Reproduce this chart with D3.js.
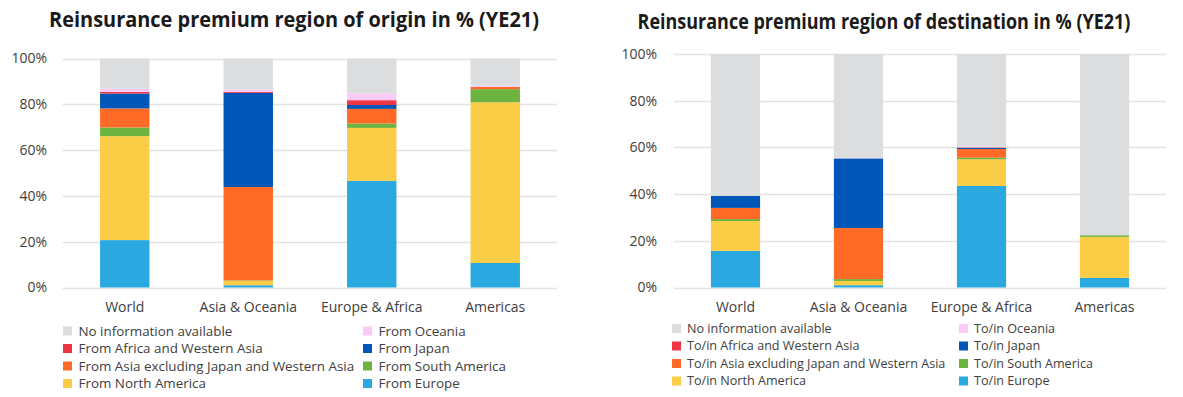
<!DOCTYPE html>
<html>
<head>
<meta charset="utf-8">
<script src="https://cdn.jsdelivr.net/npm/d3@7"></script>
<style>
  html, body { margin: 0; padding: 0; background: #fff; }
  svg { display: block; font-family: "Open Sans", "Noto Sans", sans-serif; }
</style>
</head>
<body>
<svg id="chart" width="1183" height="397"></svg>
<script>
// Regions of cedants / bar categories
const categories = ["World", "Asia & Oceania", "Europe & Africa", "Americas"];

// Stack order, bottom to top
const seriesKeys = ["europe", "northAmerica", "southAmerica", "asiaExJapan", "japan", "africaWAsia", "oceania", "noInfo"];

const seriesColors = {
  noInfo: "#dcdddf",
  oceania: "#fbcaf6",
  africaWAsia: "#ee3545",
  japan: "#0057b8",
  asiaExJapan: "#ff6b26",
  southAmerica: "#6db33f",
  northAmerica: "#fbcc45",
  europe: "#29a9e0"
};

// Legend layout: left column then right column
const legendLeftKeys = ["noInfo", "africaWAsia", "asiaExJapan", "northAmerica"];
const legendRightKeys = ["oceania", "japan", "southAmerica", "europe"];

const originLabels = {
  noInfo: "No information available",
  oceania: "From Oceania",
  africaWAsia: "From Africa and Western Asia",
  japan: "From Japan",
  asiaExJapan: "From Asia excluding Japan and Western Asia",
  southAmerica: "From South America",
  northAmerica: "From North America",
  europe: "From Europe"
};

const destinationLabels = {
  noInfo: "No information available",
  oceania: "To/in Oceania",
  africaWAsia: "To/in Africa and Western Asia",
  japan: "To/in Japan",
  asiaExJapan: "To/in Asia excluding Japan and Western Asia",
  southAmerica: "To/in South America",
  northAmerica: "To/in North America",
  europe: "To/in Europe"
};

// Share of premium (%) by region of origin, per category
const originEurope       = [20.7, 1.0, 46.6, 10.7];
const originNorthAmerica = [45.4, 1.9, 23.1, 70.2];
const originSouthAmerica = [3.8, 0.2, 1.9, 5.7];
const originAsiaExJapan  = [8.3, 40.8, 6.4, 1.0];
const originJapan        = [6.5, 41.1, 1.7, 0.0];
const originAfricaWAsia  = [0.7, 0.4, 2.1, 0.0];
const originOceania      = [1.5, 1.0, 2.9, 0.6];
const originNoInfo       = [13.1, 13.6, 15.3, 11.8];

// Share of premium (%) by region of destination, per category
const destEurope       = [15.7, 1.0, 43.5, 4.1];
const destNorthAmerica = [12.8, 1.8, 11.4, 17.6];
const destSouthAmerica = [0.8, 0.8, 0.7, 0.7];
const destAsiaExJapan  = [4.8, 21.9, 3.7, 0.0];
const destJapan        = [5.2, 29.8, 0.5, 0.0];
const destAfricaWAsia  = [0.0, 0.0, 0.2, 0.0];
const destOceania      = [0.0, 0.2, 0.2, 0.0];
const destNoInfo       = [60.7, 44.5, 39.8, 77.6];

const yTicks = [0, 20, 40, 60, 80, 100];

function buildRows(cols) {
  return categories.map((c, i) => {
    const row = { category: c };
    seriesKeys.forEach(k => { row[k] = cols[k][i]; });
    return row;
  });
}

const originRows = buildRows({
  europe: originEurope, northAmerica: originNorthAmerica, southAmerica: originSouthAmerica,
  asiaExJapan: originAsiaExJapan, japan: originJapan, africaWAsia: originAfricaWAsia,
  oceania: originOceania, noInfo: originNoInfo
});

const destRows = buildRows({
  europe: destEurope, northAmerica: destNorthAmerica, southAmerica: destSouthAmerica,
  asiaExJapan: destAsiaExJapan, japan: destJapan, africaWAsia: destAfricaWAsia,
  oceania: destOceania, noInfo: destNoInfo
});

const svg = d3.select("#chart");

function drawPanel(cfg) {
  const g = svg.append("g");

  // Title: bold, condensed horizontally to a fixed width
  const title = g.append("text")
    .attr("text-anchor", "middle")
    .attr("font-weight", 700)
    .attr("font-size", 21)
    .attr("fill", "#1a1a1a")
    .text(cfg.title);
  const natural = title.node().getComputedTextLength();
  title.attr("transform",
    `translate(${cfg.titleX},${cfg.titleY}) scale(${cfg.titleWidth / natural},1)`);

  const x = d3.scaleBand()
    .domain(categories)
    .range([cfg.left, cfg.right])
    .paddingInner(0.6)
    .paddingOuter(0.3);

  const y = d3.scaleLinear()
    .domain([0, 100])
    .range([cfg.bottom, cfg.top]);

  // Gridlines
  g.append("g")
    .selectAll("line")
    .data(yTicks)
    .join("line")
    .attr("x1", cfg.left)
    .attr("x2", cfg.right)
    .attr("y1", d => Math.round(y(d)) + 0.5)
    .attr("y2", d => Math.round(y(d)) + 0.5)
    .attr("stroke", "#e3e3e3")
    .attr("stroke-width", 1.5);

  // Y axis labels
  const yAxis = d3.axisLeft(y)
    .tickValues(yTicks)
    .tickFormat(d => d + "%")
    .tickSize(0)
    .tickPadding(cfg.left - cfg.labelRight);
  const ya = g.append("g")
    .attr("transform", `translate(${cfg.left},0)`)
    .call(yAxis);
  ya.select(".domain").remove();
  ya.selectAll("text")
    .attr("font-family", "'Open Sans', sans-serif")
    .attr("font-size", 14)
    .attr("fill", "#404040");

  // Stacked bars
  const stacked = d3.stack().keys(seriesKeys)(cfg.rows);
  g.append("g")
    .selectAll("g")
    .data(stacked)
    .join("g")
    .attr("fill", d => seriesColors[d.key])
    .selectAll("rect")
    .data(d => d)
    .join("rect")
    .attr("x", d => x(d.data.category))
    .attr("width", x.bandwidth())
    .attr("y", d => y(d[1]))
    .attr("height", d => Math.max(0, y(d[0]) - y(d[1])));

  // Category labels
  const xAxis = d3.axisBottom(x).tickSize(0).tickPadding(cfg.catPad);
  const xa = g.append("g")
    .attr("transform", `translate(0,${cfg.bottom})`)
    .call(xAxis);
  xa.select(".domain").remove();
  xa.selectAll("text")
    .attr("font-family", "'Open Sans', sans-serif")
    .attr("font-size", 14)
    .attr("fill", "#404040");

  // Legend
  const legend = g.append("g");
  const cols = [
    { keys: legendLeftKeys, x: cfg.legendX1 },
    { keys: legendRightKeys, x: cfg.legendX2 }
  ];
  cols.forEach(col => {
    col.keys.forEach((k, i) => {
      const cy = cfg.legendY + i * cfg.legendStep;
      legend.append("rect")
        .attr("x", col.x)
        .attr("y", cy - 4.5)
        .attr("width", 9)
        .attr("height", 9)
        .attr("fill", seriesColors[k]);
      legend.append("text")
        .attr("x", col.x + cfg.legendGap)
        .attr("y", cy)
        .attr("dy", "0.35em")
        .attr("font-size", cfg.legendFont)
        .attr("fill", "#404040")
        .text(cfg.labels[k]);
    });
  });
}

drawPanel({
  title: "Reinsurance premium region of origin in % (YE21)",
  titleX: 294, titleY: 27, titleWidth: 490,
  left: 63, right: 557, top: 58.5, bottom: 287.5,
  labelRight: 47, catPad: 15,
  rows: originRows, labels: originLabels,
  legendX1: 63, legendX2: 363, legendY: 331, legendStep: 17.5,
  legendGap: 15.5, legendFont: 13.4
});

drawPanel({
  title: "Reinsurance premium region of destination in % (YE21)",
  titleX: 884, titleY: 29, titleWidth: 493,
  left: 674, right: 1166, top: 54, bottom: 287.5,
  labelRight: 657, catPad: 15,
  rows: destRows, labels: destinationLabels,
  legendX1: 672, legendX2: 959, legendY: 328.5, legendStep: 17.5,
  legendGap: 15, legendFont: 12.6
});
</script>
</body>
</html>
